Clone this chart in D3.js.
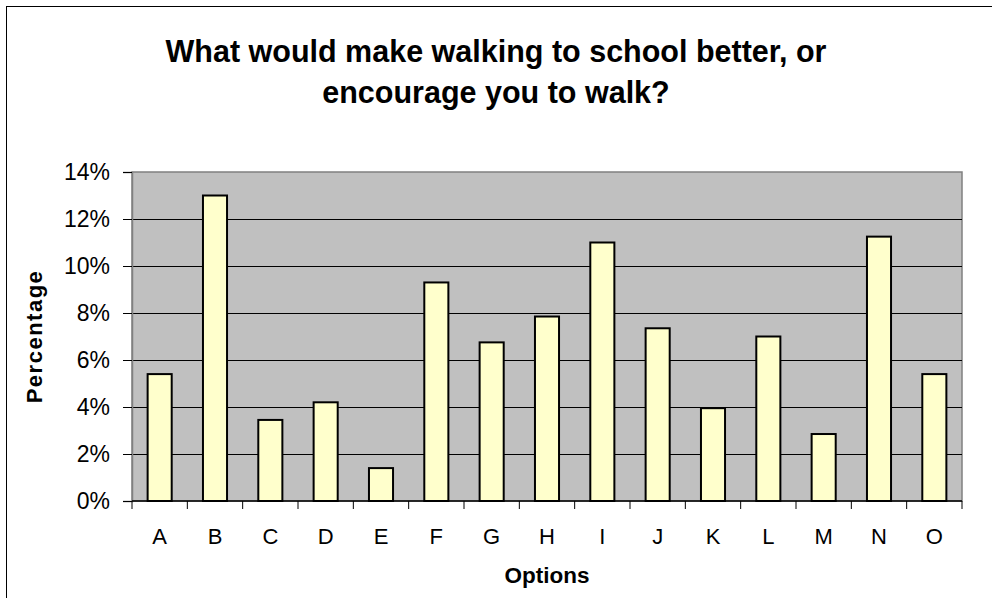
<!DOCTYPE html>
<html><head><meta charset="utf-8">
<script src="https://cdn.jsdelivr.net/npm/d3@7"></script>
<style>html,body{margin:0;padding:0;background:#fff;}svg{display:block;font-family:"Liberation Sans",Arial,sans-serif;}</style>
</head><body><svg id="c" width="992" height="598"></svg>
<script>
const categories = ["A","B","C","D","E","F","G","H","I","J","K","L","M","N","O"];
const values = [5.4,13.0,3.45,4.2,1.4,9.3,6.75,7.85,11.0,7.35,3.95,7.0,2.85,11.25,5.4];
const yTicks = [0,2,4,6,8,10,12,14];
const titleLines = ["What would make walking to school better, or","encourage you to walk?"];
const xTitle = "Options", yTitle = "Percentage";

const svg = d3.select("#c");
const L=132, R=962, T=172, B=501;
svg.append("rect").attr("x",6.5).attr("y",6.5).attr("width",1000).attr("height",1000).attr("fill","#fff").attr("stroke","#000").attr("stroke-width",1);

const x = d3.scaleBand().domain(categories).range([L,R]).paddingInner(0.565).paddingOuter(0.2825);
const y = d3.scaleLinear().domain([0,14]).range([B,T]);

svg.append("rect").attr("x",L).attr("y",T).attr("width",R-L).attr("height",B-T).attr("fill","#c0c0c0").attr("stroke","#808080").attr("stroke-width",1.5);

svg.append("g").selectAll("line").data(yTicks.filter(d=>d>0&&d<14)).join("line")
 .attr("x1",L).attr("x2",R).attr("y1",d=>Math.round(y(d))+0.5).attr("y2",d=>Math.round(y(d))+0.5)
 .attr("stroke","#000").attr("stroke-width",1);

svg.append("g").selectAll("rect").data(categories).join("rect")
 .attr("x",d=>x(d)).attr("width",x.bandwidth())
 .attr("y",(d,i)=>y(values[i])).attr("height",(d,i)=>B-y(values[i]))
 .attr("fill","#ffffcc").attr("stroke","#000").attr("stroke-width",2);

// y axis
const ya = svg.append("g").attr("transform",`translate(${L},0)`)
 .call(d3.axisLeft(y).tickValues(yTicks).tickFormat(d=>d+"%").tickSize(9).tickPadding(13));
ya.select(".domain").attr("stroke","#808080").attr("stroke-width",1.5);
ya.selectAll(".tick line").attr("stroke","#000");
ya.selectAll("text").attr("font-size",23).attr("fill","#000").attr("font-family","Liberation Sans, Arial, sans-serif");

// x axis
const xa = svg.append("g").attr("transform",`translate(0,${B})`);
xa.append("line").attr("x1",L).attr("x2",R).attr("y1",0).attr("y2",0).attr("stroke","#000").attr("stroke-width",1.5);
const bounds = d3.range(categories.length+1).map(i=>L+i*(R-L)/categories.length);
xa.selectAll("line.t").data(bounds).join("line").attr("class","t")
 .attr("x1",d=>d).attr("x2",d=>d).attr("y1",0).attr("y2",8).attr("stroke","#000");
xa.selectAll("text").data(categories).join("text")
 .attr("x",d=>x(d)+x.bandwidth()/2).attr("y",43).attr("text-anchor","middle")
 .attr("font-size",22).attr("fill","#000").text(d=>d);

svg.append("text").attr("x",(L+R)/2).attr("y",583).attr("text-anchor","middle")
 .attr("font-size",22.5).attr("font-weight","bold").text(xTitle);
svg.append("text").attr("transform",`translate(42,${(T+B)/2}) rotate(-90)`).attr("text-anchor","middle")
 .attr("font-size",22).attr("font-weight","bold").attr("letter-spacing",1.5).text(yTitle);

svg.append("g").selectAll("text").data(titleLines).join("text")
 .attr("x",496).attr("y",(d,i)=>62+i*41).attr("text-anchor","middle")
 .attr("font-size",30.5).attr("font-weight","bold").text(d=>d);
</script></body></html>
